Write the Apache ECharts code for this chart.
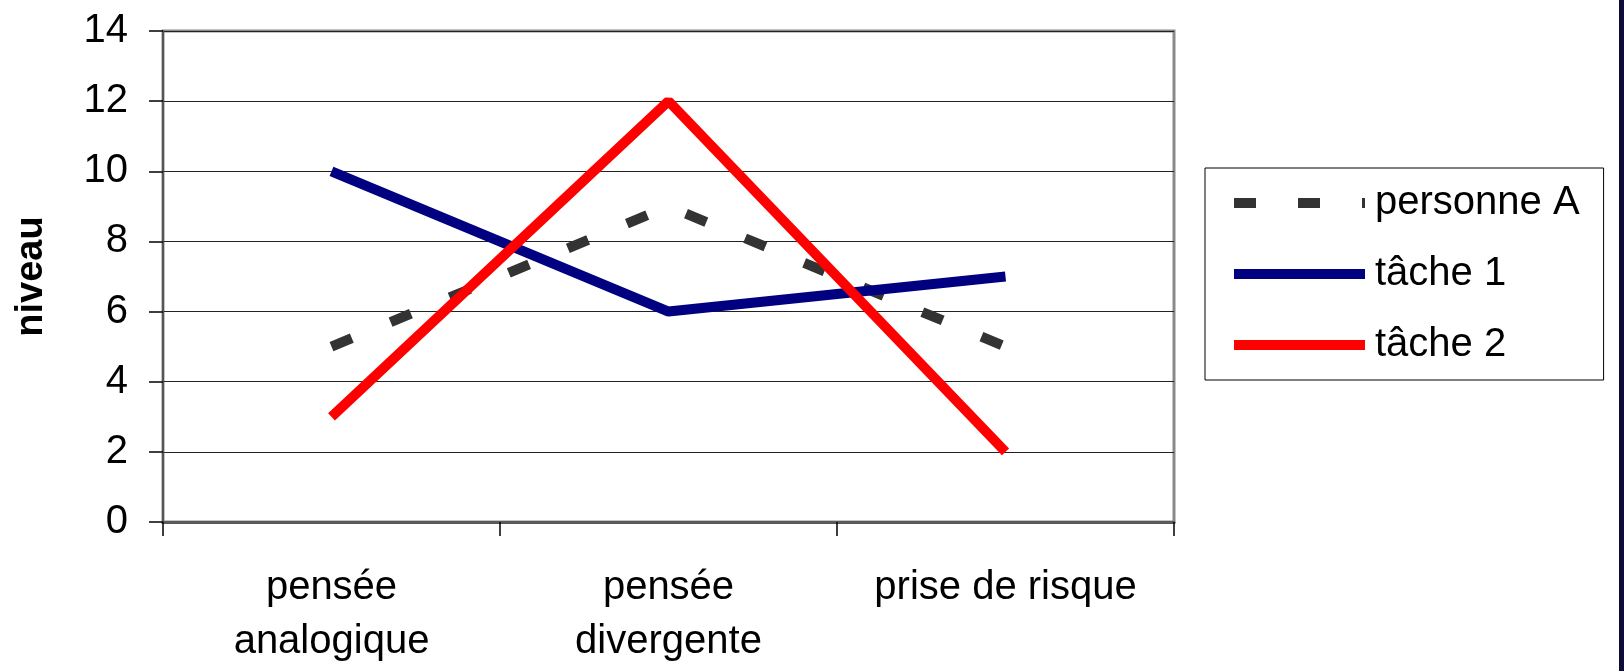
<!DOCTYPE html>
<html>
<head>
<meta charset="utf-8">
<script src="https://cdn.jsdelivr.net/npm/echarts@6/dist/echarts.min.js"></script>
<style>
html,body{margin:0;padding:0;background:#fff;}
#chart{width:1624px;height:671px;}
</style>
</head>
<body>
<div id="chart"></div>
<script>
const categories = ['pensée\nanalogique', 'pensée\ndivergente', 'prise de risque'];
const seriesNames = ['personne A', 'tâche 1', 'tâche 2'];
const personneA = [5, 9, 5];
const tache1 = [10, 6, 7];
const tache2 = [3, 12, 2];
const yTicks = [0, 2, 4, 6, 8, 10, 12, 14];

const FONT = '"Liberation Sans", Arial, sans-serif';
const chart = echarts.init(document.getElementById('chart'), null, {renderer: 'canvas'});
chart.setOption({
  backgroundColor: '#ffffff',
  animation: false,
  grid: {
    left: 163, top: 31, right: 450, bottom: 149,
    outerBoundsMode: 'none', containLabel: false,
    show: true, borderColor: '#8a8a8a', borderWidth: 3, backgroundColor: 'transparent'
  },
  legend: {
    orient: 'vertical',
    left: 1205, top: 168,
    padding: [15, 24, 15, 24],
    borderColor: '#000', borderWidth: 1,
    itemWidth: 131, itemHeight: 40, itemGap: 31,
    data: seriesNames,
    lineStyle: { width: 10 },
    itemStyle: { color: 'transparent', borderWidth: 0, opacity: 0 },
    formatter: '{a|{name}}',
    textStyle: {
      color: '#000', fontFamily: FONT, fontSize: 40, lineHeight: 40,
      rich: { a: { fontFamily: FONT, fontSize: 40, lineHeight: 40, color: '#000', padding: [0, 0, 0, 5] } }
    },
    selectedMode: false
  },
  xAxis: {
    type: 'category',
    data: categories,
    boundaryGap: true,
    axisLine: { lineStyle: { color: '#5a5a5a', width: 3 } },
    axisTick: { show: true, length: 14, lineStyle: { color: '#000', width: 1.5 } },
    axisLabel: {
      color: '#000', fontFamily: FONT, fontSize: 40, lineHeight: 54, margin: 39,
      interval: 0
    },
    splitLine: { show: false }
  },
  yAxis: {
    type: 'value',
    min: yTicks[0], max: yTicks[yTicks.length - 1], interval: 2,
    name: 'niveau',
    nameLocation: 'middle',
    nameGap: 112,
    nameRotate: 90,
    nameTextStyle: { color: '#000', fontFamily: FONT, fontSize: 38, fontWeight: 'bold' },
    axisLine: { show: true, lineStyle: { color: '#555', width: 2 } },
    axisTick: { show: true, length: 14, lineStyle: { color: '#000', width: 1.5 } },
    axisLabel: { color: '#000', fontFamily: FONT, fontSize: 40, margin: 35 },
    splitLine: { show: true, lineStyle: { color: '#222', width: 1.2 } }
  },
  series: [
    {
      name: seriesNames[0], type: 'line', data: personneA, symbol: 'none',
      lineStyle: { color: '#333333', width: 10, type: [22, 42], cap: 'butt' },
      itemStyle: { color: '#333333' }
    },
    {
      name: seriesNames[1], type: 'line', data: tache1, symbol: 'none',
      lineStyle: { color: '#000080', width: 10, cap: 'butt' },
      itemStyle: { color: '#000080' }
    },
    {
      name: seriesNames[2], type: 'line', data: tache2, symbol: 'none',
      lineStyle: { color: '#ff0000', width: 10, cap: 'butt' },
      itemStyle: { color: '#ff0000' }
    }
  ],
  graphic: [
    { type: 'rect', right: 0, top: 0, shape: { width: 5, height: 671 }, style: { fill: '#0c0c36' }, silent: true }
  ]
});
</script>
</body>
</html>
